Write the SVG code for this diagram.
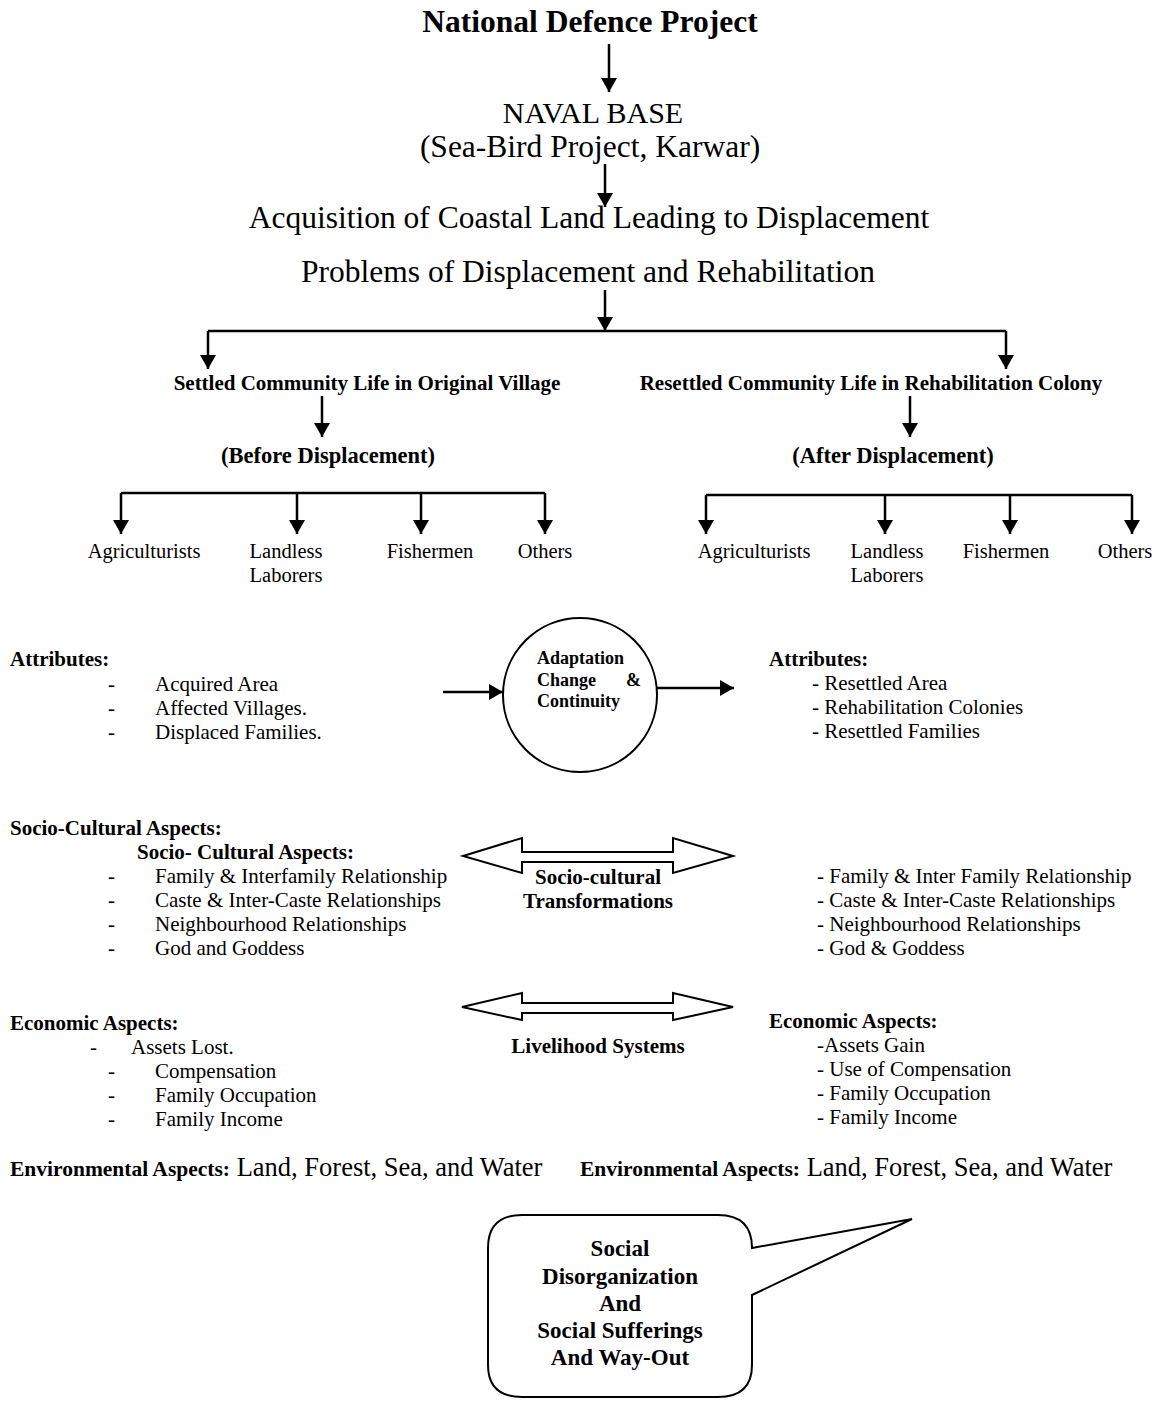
<svg xmlns="http://www.w3.org/2000/svg" width="1167" height="1404" viewBox="0 0 1167 1404">
<defs>
<marker id="ah" viewBox="0 0 14 16" refX="14" refY="8" markerWidth="14" markerHeight="16" markerUnits="userSpaceOnUse" orient="auto">
<path d="M0,0 L14,8 L0,16 z" fill="#000"/>
</marker>
</defs>
<style>
text{font-family:"Liberation Serif","Times New Roman",serif;fill:#000}
.t30b{font-size:31.5px;font-weight:bold}
.t28{font-size:31.5px}
.nb{font-size:30px}
.h19b{font-size:21px;font-weight:bold}
.h22b{font-size:22.5px;font-weight:bold}
.l18{font-size:20.5px}
.i21{font-size:21px}
.b17{font-size:21px;font-weight:bold}
.env-b{font-size:21.5px;font-weight:bold}
.c15b{font-size:18px;font-weight:bold}
.m18b{font-size:21px;font-weight:bold}
.e21{font-size:26.5px}
.k19b{font-size:23px;font-weight:bold}
.ln{stroke:#000;stroke-width:2.5;fill:none}
.ar{stroke:#000;stroke-width:2.5;fill:none;marker-end:url(#ah)}
.shape{stroke:#000;stroke-width:2;fill:#fff}
</style>
<rect width="1167" height="1404" fill="#fff"/>

<g id="connectors">
<line class="ar" x1="609" y1="44" x2="609" y2="92"/>
<line class="ar" x1="605" y1="164" x2="605" y2="207"/>
<line class="ar" x1="605" y1="290" x2="605" y2="331"/>
<line class="ln" x1="208" y1="331" x2="1006" y2="331"/>
<line class="ar" x1="208" y1="331" x2="208" y2="369"/>
<line class="ar" x1="1006" y1="331" x2="1006" y2="369"/>
<line class="ar" x1="322" y1="396" x2="322" y2="437"/>
<line class="ar" x1="910" y1="396" x2="910" y2="437"/>
<line class="ln" x1="121" y1="493" x2="545" y2="493"/>
<line class="ar" x1="121" y1="493" x2="121" y2="534"/>
<line class="ar" x1="297" y1="493" x2="297" y2="534"/>
<line class="ar" x1="421" y1="493" x2="421" y2="534"/>
<line class="ar" x1="545" y1="493" x2="545" y2="534"/>
<line class="ln" x1="706" y1="495" x2="1132" y2="495"/>
<line class="ar" x1="706" y1="495" x2="706" y2="534"/>
<line class="ar" x1="885" y1="495" x2="885" y2="534"/>
<line class="ar" x1="1010" y1="495" x2="1010" y2="534"/>
<line class="ar" x1="1132" y1="495" x2="1132" y2="534"/>
<line class="ar" x1="443" y1="692" x2="503" y2="692"/>
<line class="ar" x1="657" y1="688" x2="734" y2="688"/>
</g>

<g id="title"><text class="t30b" x="590" y="32" text-anchor="middle">National Defence Project</text></g>
<g id="naval-base">
<text class="nb" x="593" y="123" text-anchor="middle">NAVAL BASE</text>
<text class="t28" x="590" y="157" text-anchor="middle">(Sea-Bird Project, Karwar)</text>
</g>
<g id="acquisition"><text class="t28" x="589" y="228" text-anchor="middle">Acquisition of Coastal Land Leading to Displacement</text></g>
<g id="problems"><text class="t28" x="588" y="282" text-anchor="middle">Problems of Displacement and Rehabilitation</text></g>

<g id="settled">
<text class="h19b" x="367" y="390" text-anchor="middle">Settled Community Life in Original Village</text>
<text class="h22b" x="328" y="463" text-anchor="middle">(Before Displacement)</text>
</g>
<g id="resettled">
<text class="h19b" x="871" y="390" text-anchor="middle">Resettled Community Life in Rehabilitation Colony</text>
<text class="h22b" x="893" y="463" text-anchor="middle">(After Displacement)</text>
</g>

<g id="before-groups">
<text class="l18" x="144" y="558" text-anchor="middle">Agriculturists</text>
<text class="l18" x="286" y="558" text-anchor="middle">Landless</text>
<text class="l18" x="286" y="582" text-anchor="middle">Laborers</text>
<text class="l18" x="430" y="558" text-anchor="middle">Fishermen</text>
<text class="l18" x="545" y="558" text-anchor="middle">Others</text>
</g>
<g id="after-groups">
<text class="l18" x="754" y="558" text-anchor="middle">Agriculturists</text>
<text class="l18" x="887" y="558" text-anchor="middle">Landless</text>
<text class="l18" x="887" y="582" text-anchor="middle">Laborers</text>
<text class="l18" x="1006" y="558" text-anchor="middle">Fishermen</text>
<text class="l18" x="1125" y="558" text-anchor="middle">Others</text>
</g>

<g id="attributes-left">
<text class="b17" x="10" y="666">Attributes:</text>
<text class="i21" x="108" y="691">-</text><text class="i21" x="155" y="691">Acquired Area</text>
<text class="i21" x="108" y="715">-</text><text class="i21" x="155" y="715">Affected Villages.</text>
<text class="i21" x="108" y="739">-</text><text class="i21" x="155" y="739">Displaced Families.</text>
</g>

<g id="adaptation">
<circle class="shape" cx="580" cy="695" r="77"/>
<text class="c15b" x="537" y="664">Adaptation</text>
<text class="c15b" x="537" y="686">Change</text><text class="c15b" x="626" y="686">&amp;</text>
<text class="c15b" x="537" y="707">Continuity</text>
</g>

<g id="attributes-right">
<text class="b17" x="769" y="666">Attributes:</text>
<text class="i21" x="812" y="690">- Resettled Area</text>
<text class="i21" x="812" y="714">- Rehabilitation Colonies</text>
<text class="i21" x="812" y="738">- Resettled Families</text>
</g>

<g id="socio-left">
<text class="b17" x="10" y="835">Socio-Cultural Aspects:</text>
<text class="b17" x="137" y="859">Socio- Cultural Aspects:</text>
<text class="i21" x="108" y="883">-</text><text class="i21" x="155" y="883">Family &amp; Interfamily Relationship</text>
<text class="i21" x="108" y="907">-</text><text class="i21" x="155" y="907">Caste &amp; Inter-Caste Relationships</text>
<text class="i21" x="108" y="931">-</text><text class="i21" x="155" y="931">Neighbourhood Relationships</text>
<text class="i21" x="108" y="955">-</text><text class="i21" x="155" y="955">God and Goddess</text>
</g>

<g id="socio-transform">
<polygon class="shape" points="463,856 522,838 522,852 673,852 673,838 733,856 673,873 673,862 522,862 522,873"/>
<text class="m18b" x="598" y="884" text-anchor="middle">Socio-cultural</text>
<text class="m18b" x="598" y="908" text-anchor="middle">Transformations</text>
</g>

<g id="socio-right">
<text class="i21" x="817" y="883">- Family &amp; Inter Family Relationship</text>
<text class="i21" x="817" y="907">- Caste &amp; Inter-Caste Relationships</text>
<text class="i21" x="817" y="931">- Neighbourhood Relationships</text>
<text class="i21" x="817" y="955">- God &amp; Goddess</text>
</g>

<g id="livelihood">
<polygon class="shape" points="462,1007 522,993 522,1003 673,1003 673,993 733,1007 673,1020 673,1013 522,1013 522,1020"/>
<text class="m18b" x="598" y="1053" text-anchor="middle">Livelihood Systems</text>
</g>

<g id="economic-left">
<text class="b17" x="10" y="1030">Economic Aspects:</text>
<text class="i21" x="90" y="1054">-</text><text class="i21" x="131" y="1054">Assets Lost.</text>
<text class="i21" x="108" y="1078">-</text><text class="i21" x="155" y="1078">Compensation</text>
<text class="i21" x="108" y="1102">-</text><text class="i21" x="155" y="1102">Family Occupation</text>
<text class="i21" x="108" y="1126">-</text><text class="i21" x="155" y="1126">Family Income</text>
</g>

<g id="economic-right">
<text class="b17" x="769" y="1028">Economic Aspects:</text>
<text class="i21" x="817" y="1052">-Assets Gain</text>
<text class="i21" x="817" y="1076">- Use of Compensation</text>
<text class="i21" x="817" y="1100">- Family Occupation</text>
<text class="i21" x="817" y="1124">- Family Income</text>
</g>

<g id="environment-left">
<text x="10" y="1176"><tspan class="env-b">Environmental Aspects:</tspan><tspan class="e21"> Land, Forest, Sea, and Water</tspan></text>
</g>
<g id="environment-right">
<text x="580" y="1176"><tspan class="env-b">Environmental Aspects:</tspan><tspan class="e21"> Land, Forest, Sea, and Water</tspan></text>
</g>

<g id="callout">
<path class="shape" d="M522,1215 L718,1215 Q752,1215 752,1248 L912,1219 L752,1295 L752,1365 Q752,1397 718,1397 L522,1397 Q488,1397 488,1365 L488,1248 Q488,1215 522,1215 Z"/>
<text class="k19b" x="620" y="1256" text-anchor="middle">Social</text>
<text class="k19b" x="620" y="1284" text-anchor="middle">Disorganization</text>
<text class="k19b" x="620" y="1311" text-anchor="middle">And</text>
<text class="k19b" x="620" y="1338" text-anchor="middle">Social Sufferings</text>
<text class="k19b" x="620" y="1365" text-anchor="middle">And Way-Out</text>
</g>
</svg>
